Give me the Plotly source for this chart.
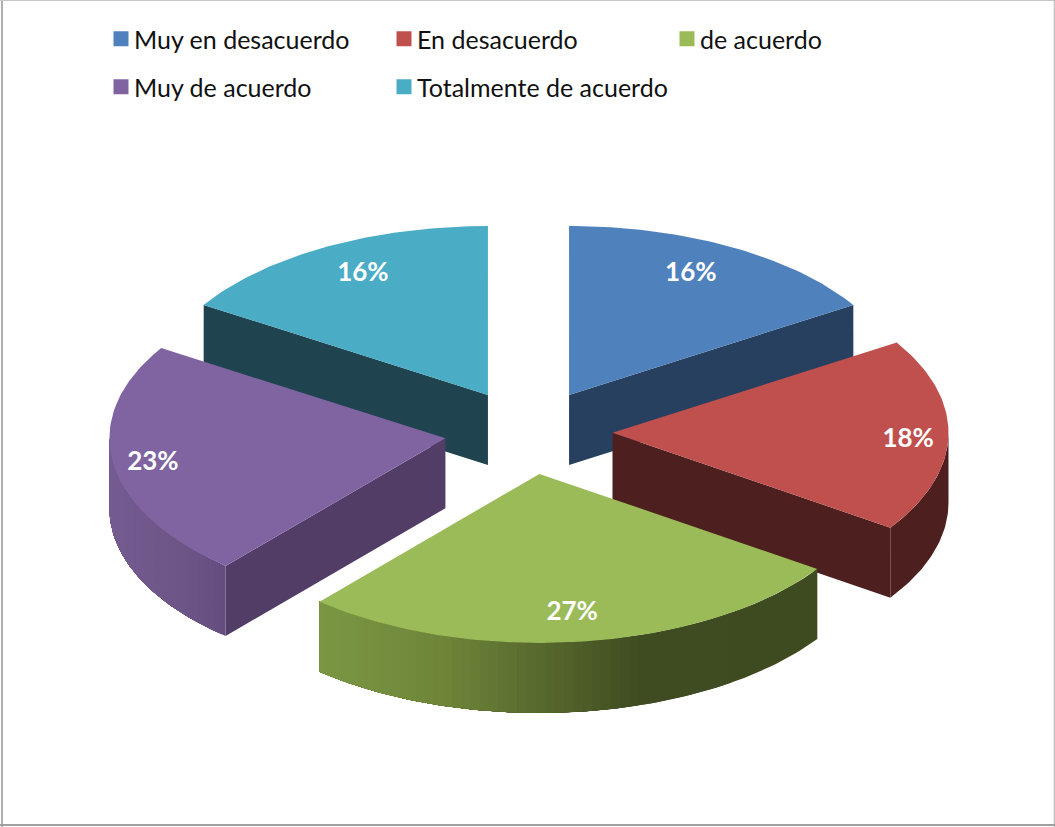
import math
import plotly.graph_objects as go

# Survey answers, in percent, and how each answer is coloured
CATEGORIES = ["Muy en desacuerdo", "En desacuerdo", "de acuerdo", "Muy de acuerdo", "Totalmente de acuerdo"]
VALUES = [16.05, 18.45, 26.85, 22.6, 16.05]
TOP_COLORS = ["#4F81BD", "#C0504D", "#9BBB59", "#8064A2", "#4BACC6"]
CUT_COLORS = ["#27405F", "#4D1F1F", "#3E4A20", "#513D66", "#1F444F"]
LEGEND_GROUPS = ["legend", "legend", "legend", "legend2", "legend3"]

# Shading of the outer rim, as (fraction across the slice's rim, colour)
RIM_STOPS = [
    [(0, "#27405F"), (1, "#27405F")],
    [(0, "#4D1F1F"), (1, "#4D1F1F")],
    [(0, "#7B9743"), (0.25, "#6E8539"), (0.65, "#3F4B20"), (1, "#3E4A20")],
    [(0, "#745C91"), (0.7, "#6C5486"), (1, "#644D7E")],
    [(0, "#1F444F"), (1, "#1F444F")],
]

# Projection of the tilted pie onto the page
CX, CY = 528.5, 432.0
RX, RY = 336.0, 169.0
DEPTH = 70.0
EXPLODE = 0.25
ARC_STEP = 1.0
RIM_BANDS = 60

# Where each percentage sits, as a fraction of the radius along the slice's middle
LABEL_FX = [0.75, 0.88, 0.75, 0.88, 0.77]
LABEL_FY = [0.83, 0.85, 0.82, 0.95, 0.825]
LABEL_DY = [2, 5, 2, 2, 2]

ORDER = [0, 4, 1, 3, 2]  # paint from the back of the pie to the front


def hex_rgb(c):
    return tuple(int(c[i:i + 2], 16) for i in (1, 3, 5))


def shade(stops, t):
    for (t0, c0), (t1, c1) in zip(stops, stops[1:]):
        if t <= t1:
            k = (t - t0) / (t1 - t0) if t1 > t0 else 0
            a, b = hex_rgb(c0), hex_rgb(c1)
            return "rgb({},{},{})".format(*(round(a[i] + (b[i] - a[i]) * k) for i in range(3)))
    return stops[-1][1]


def rim_point(apex, deg):
    r = math.radians(deg)
    return apex[0] + RX * math.sin(r), apex[1] - RY * math.cos(r)


def polygon(xs, ys, color, name=None):
    return go.Scatter(
        x=xs + xs[:1], y=ys + ys[:1], mode="lines", fill="toself", fillcolor=color,
        line=dict(width=0, color=color), hoverinfo="skip", showlegend=False, name=name,
    )


def rim_band(apex, d0, d1, color):
    steps = max(1, int(abs(d1 - d0) / ARC_STEP))
    arc = [rim_point(apex, d0 + (d1 - d0) * k / steps) for k in range(steps + 1)]
    xs = [p[0] for p in arc]
    ys = [p[1] for p in arc]
    return polygon(xs + xs[::-1], ys + [y + DEPTH for y in ys[::-1]], color)


bounds = []
angle = 0.0
for v in VALUES:
    bounds.append((angle, angle + v * 3.6))
    angle += v * 3.6

apexes = []
for a0, a1 in bounds:
    mid = math.radians((a0 + a1) / 2)
    apexes.append((CX + EXPLODE * RX * math.sin(mid), CY - EXPLODE * RY * math.cos(mid)))

fig = go.Figure()

for i in ORDER:
    a0, a1 = bounds[i]
    apex = apexes[i]

    # Cut faces that turn toward the viewer
    for edge, visible in ((a1, a1 < 180), (a0, a0 > 180)):
        if visible:
            ex, ey = rim_point(apex, edge)
            fig.add_trace(polygon(
                [apex[0], ex, ex, apex[0]],
                [apex[1], ey, ey + DEPTH, apex[1] + DEPTH],
                CUT_COLORS[i],
            ))

    # Outer rim: each band runs on to the rim's end and the next one paints over it,
    # which leaves no seams between neighbouring colours
    w0, w1 = max(a0, 90.0), min(a1, 270.0)
    if w1 > w0:
        xa, _ = rim_point(apex, w0)
        xb, _ = rim_point(apex, w1)
        lo, hi = min(xa, xb), max(xa, xb)
        previous = None
        for k in range(RIM_BANDS):
            d0 = w0 + (w1 - w0) * k / RIM_BANDS
            d1 = w0 + (w1 - w0) * (k + 1) / RIM_BANDS
            xm = (rim_point(apex, d0)[0] + rim_point(apex, d1)[0]) / 2
            color = shade(RIM_STOPS[i], (xm - lo) / (hi - lo))
            if color != previous:
                fig.add_trace(rim_band(apex, d0, w1, color))
                previous = color

    # Top face of the slice
    steps = max(2, int((a1 - a0) / ARC_STEP))
    arc = [rim_point(apex, a0 + (a1 - a0) * k / steps) for k in range(steps + 1)]
    fig.add_trace(polygon(
        [apex[0]] + [p[0] for p in arc], [apex[1]] + [p[1] for p in arc],
        TOP_COLORS[i], name=CATEGORIES[i],
    ))

# Percentages printed on the slices
label_x, label_y, label_text = [], [], []
for i, (a0, a1) in enumerate(bounds):
    mid = math.radians((a0 + a1) / 2)
    label_x.append(apexes[i][0] + LABEL_FX[i] * RX * math.sin(mid))
    label_y.append(apexes[i][1] - LABEL_FY[i] * RY * math.cos(mid) + LABEL_DY[i])
    label_text.append(f"{VALUES[i]:.0f}%")
fig.add_trace(go.Scatter(
    x=label_x, y=label_y, text=label_text, mode="text", textposition="middle center",
    textfont=dict(family="Lato", size=26, color="white", weight="bold"),
    hoverinfo="skip", showlegend=False,
))

# Legend entries: a three-column first row, then two separately placed entries
for i, name in enumerate(CATEGORIES):
    fig.add_trace(go.Scatter(
        x=[None], y=[None], mode="markers", name=name,
        marker=dict(symbol="square", size=15, color=TOP_COLORS[i], line=dict(width=0)),
        legend=LEGEND_GROUPS[i], hoverinfo="skip",
    ))

legend_style = dict(
    orientation="h", xanchor="left", yanchor="middle", bgcolor="rgba(0,0,0,0)",
    font=dict(family="Lato", size=25, color="#111111"),
    itemclick=False, itemdoubleclick=False, indentation=-5,
)

fig.update_layout(
    width=1055, height=827, margin=dict(l=0, r=0, t=0, b=0),
    paper_bgcolor="white", plot_bgcolor="white",
    xaxis=dict(range=[0, 1055], visible=False, fixedrange=True),
    yaxis=dict(range=[827, 0], visible=False, fixedrange=True),
    legend=dict(x=99 / 1055, y=1 - 39 / 827, entrywidth=243, entrywidthmode="pixels", **legend_style),
    legend2=dict(x=99 / 1055, y=1 - 87 / 827, **legend_style),
    legend3=dict(x=382 / 1055, y=1 - 87 / 827, **legend_style),
    shapes=[
        dict(type="line", xref="paper", yref="paper", x0=0.0019, x1=0.0019, y0=0, y1=1,
             line=dict(color="#B0B0B0", width=2)),
        dict(type="line", xref="paper", yref="paper", x0=0, x1=1, y0=0.9994, y1=0.9994,
             line=dict(color="#C8C8C8", width=1)),
        dict(type="line", xref="paper", yref="paper", x0=0.9993, x1=0.9993, y0=0, y1=1,
             line=dict(color="#B0B0B0", width=1)),
        dict(type="line", xref="paper", yref="paper", x0=0, x1=1, y0=0.0024, y1=0.0024,
             line=dict(color="#A0A0A0", width=2)),
    ],
)

# Bring the legend swatches closer to their text than the default spacing allows
SWATCH_SHIFT = """
var gd = document.getElementById('{plot_id}');
function shiftSwatches() {
  gd.querySelectorAll('.legendsymbols').forEach(function (s) {
    s.setAttribute('transform', 'translate(7,0)');
  });
}
shiftSwatches();
gd.on('plotly_afterplot', shiftSwatches);
"""

fig.write_html("out.html", config=dict(displayModeBar=False), post_script=SWATCH_SHIFT)
